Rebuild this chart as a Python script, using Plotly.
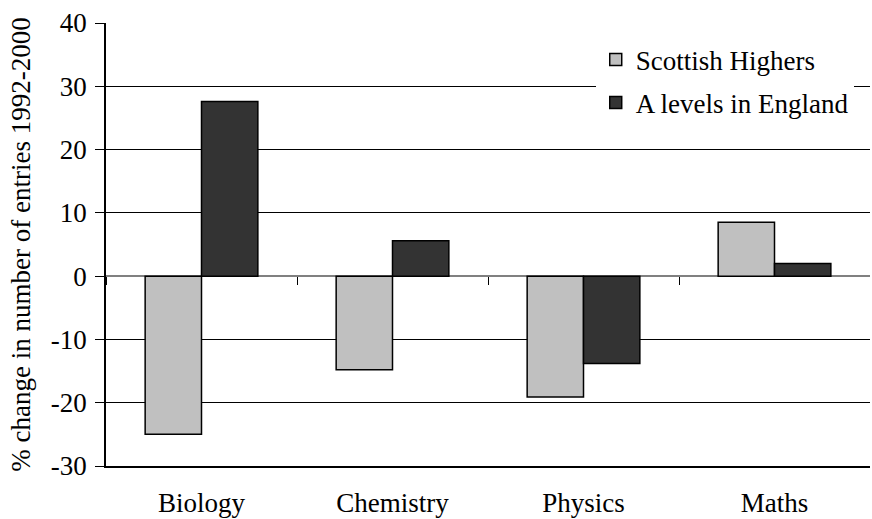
import plotly.graph_objects as go

categories = ["Biology", "Chemistry", "Physics", "Maths"]
scottish_highers = [-25.0, -14.8, -19.1, 8.5]
a_levels_england = [27.6, 5.6, -13.8, 2.0]
y_ticks = [-30, -20, -10, 0, 10, 20, 30, 40]
y_tick_labels = ["-30", "-20", "-10", "0", "10", "20", "30", "40"]

FONT = "Liberation Serif"
FS = 27

fig = go.Figure()
fig.add_trace(go.Bar(
    x=categories, y=scottish_highers, name="Scottish Highers",
    marker=dict(color="#C0C0C0", line=dict(color="black", width=1.5)),
    legendgroup="g1",
))
fig.add_trace(go.Bar(
    x=categories, y=a_levels_england, name="A levels in England",
    marker=dict(color="#333333", line=dict(color="black", width=1.5)),
    legendgroup="g2",
))

fig.update_layout(
    width=872, height=519,
    margin=dict(l=106, r=2, t=23, b=53),
    paper_bgcolor="white", plot_bgcolor="white",
    font=dict(family=FONT, size=FS, color="black"),
    barmode="group", bargap=0.41, bargroupgap=0,
    showlegend=True,
    legend=dict(
        x=0.641, y=0.972, xanchor="left", yanchor="top",
        bgcolor="white", borderwidth=0,
        font=dict(family=FONT, size=FS, color="black"),
        traceorder="grouped", tracegroupgap=5,
    ),
    xaxis=dict(
        showline=True, linecolor="black", linewidth=1.5,
        ticks="outside", ticklen=12, tickcolor="rgba(0,0,0,0)",
        tickfont=dict(family=FONT, size=FS),
        showgrid=False, zeroline=False, automargin=False,
    ),
    xaxis2=dict(
        overlaying="x", anchor="free", position=3/7,
        range=[-0.5, 3.5], tickvals=[-0.5, 0.5, 1.5, 2.5],
        ticks="outside", ticklen=8, tickcolor="black", tickwidth=1,
        showticklabels=False, showgrid=False, zeroline=False, showline=False,
    ),
    yaxis=dict(
        range=[-30, 40], tickvals=y_ticks, ticktext=y_tick_labels,
        showline=True, linecolor="black", linewidth=1.5,
        ticks="outside", ticklen=9, tickcolor="black", tickwidth=1,
        ticklabelstandoff=3,
        showgrid=True, gridcolor="black", gridwidth=1,
        zeroline=True, zerolinecolor="#808080", zerolinewidth=1.5,
        tickfont=dict(family=FONT, size=FS),
        title=dict(text="% change in number of entries 1992-2000",
                   font=dict(family=FONT, size=FS), standoff=12),
        domain=[0, 1], automargin=False,
    ),
)
fig.add_trace(go.Scatter(x=[None], y=[None], xaxis="x2", showlegend=False, hoverinfo="skip"))

# remove the default page margin so the figure fills the window exactly
fig.write_html("out.html",
               config={"displayModeBar": False},
               post_script="document.body.style.margin='0px';document.body.style.overflow='hidden';")
